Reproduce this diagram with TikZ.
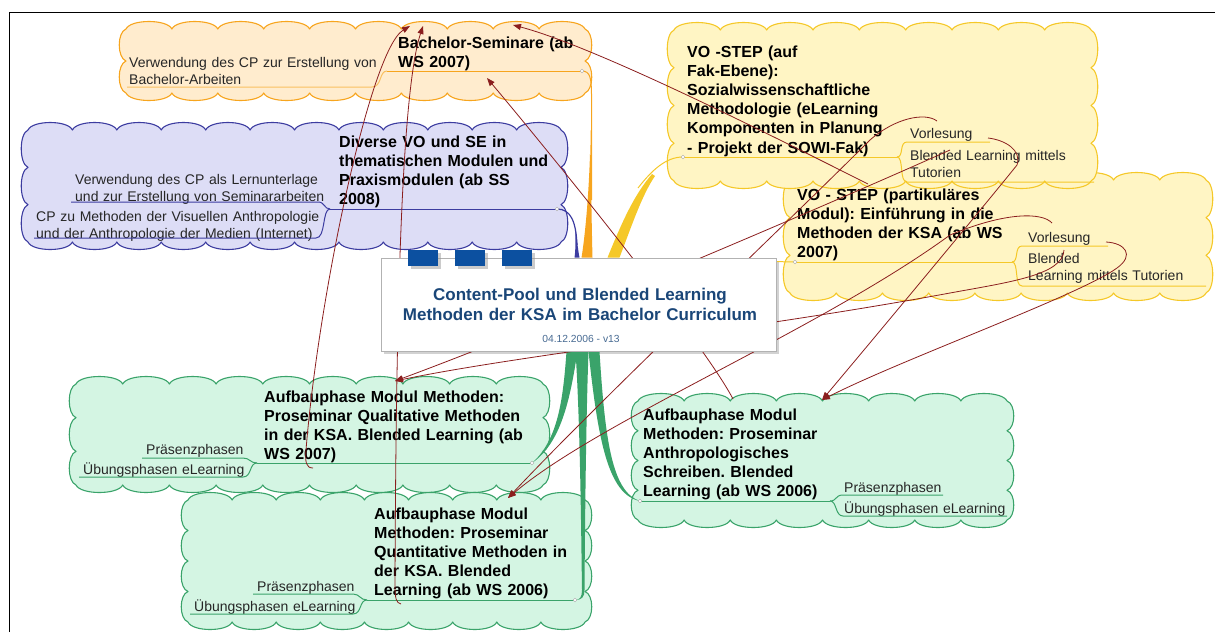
\documentclass[tikz,border=0pt]{standalone}
\usepackage{fontspec}
\setmainfont{Liberation Sans}
\frenchspacing
\usetikzlibrary{positioning, arrows.meta, calc, shadows}

\definecolor{peach}{RGB}{255,236,206}
\definecolor{peachline}{RGB}{247,165,30}
\definecolor{lilac}{RGB}{221,221,246}
\definecolor{lilacline}{RGB}{60,60,160}
\definecolor{lemon}{RGB}{255,245,196}
\definecolor{lemonline}{RGB}{245,200,40}
\definecolor{mint}{RGB}{212,245,227}
\definecolor{mintline}{RGB}{58,163,106}
\definecolor{relred}{RGB}{139,30,30}
\definecolor{titleblue}{RGB}{26,70,120}
\definecolor{tabblue}{RGB}{12,80,160}

% scalloped box: left, top, right, bottom, style
\newcommand\puff[5]{%
  \pgfmathtruncatemacro\nx{max(2,round((#3-#1)/45))}%
  \pgfmathtruncatemacro\ny{max(1,round((#4-#2)/34))}%
  \pgfmathsetmacro\wx{(#3-#1)/\nx}%
  \pgfmathsetmacro\wy{(#4-#2)/\ny}%
  \draw[#5] (#1,#2)
    foreach \i in {1,...,\nx} { .. controls +(0.1*\wx,-10) and +(-0.1*\wx,-10) .. ++(\wx,0) }
    foreach \i in {1,...,\ny} { .. controls +(9,0.1*\wy) and +(9,-0.1*\wy) .. ++(0,\wy) }
    foreach \i in {1,...,\nx} { .. controls +(-0.1*\wx,10) and +(0.1*\wx,10) .. ++(-\wx,0) }
    foreach \i in {1,...,\ny} { .. controls +(-9,-0.1*\wy) and +(-9,0.1*\wy) .. ++(0,-\wy) }
    -- cycle;}

\begin{document}
\begin{tikzpicture}[x=1pt, y=-1pt,
  bubble/.style={line width=1.1pt, line join=round},
  ttl/.style={inner sep=0pt, anchor=base west, text width=360pt, align=left, font=\fontsize{16}{19.2}\selectfont\bfseries},
  sub/.style={inner sep=0pt, anchor=base west, text width=330pt, align=left, text=black!85, font=\fontsize{14}{17}\selectfont},
  uline/.style={line width=1pt},
  knob/.style={draw=gray!70, fill=white, line width=0.4pt},
  tab/.style={fill=tabblue, minimum width=30pt, minimum height=16pt, inner sep=0pt, drop shadow={shadow xshift=3pt, shadow yshift=-3pt, fill=black!40}},
  rel/.style={draw=relred, line width=0.8pt, -{Triangle[length=8pt, width=6pt]}}]
\useasboundingbox (0,0) rectangle (1215,632);
\draw[line width=1pt] (9,632) -- (9,12) -- (1215,12);

% clouds
\puff{126}{29}{585}{93}{bubble, draw=peachline, fill=peach}
\puff{28}{130}{561}{242}{bubble, draw=lilacline, fill=lilac}
\puff{790}{180}{1206}{293}{bubble, draw=lemonline, fill=lemon}
\puff{674}{30}{1091}{181}{bubble, draw=lemonline, fill=lemon}
\puff{76}{384}{543}{485}{bubble, draw=mintline, fill=mint}
\puff{188}{500}{585}{622}{bubble, draw=mintline, fill=mint}
\puff{638}{401}{1007}{520}{bubble, draw=mintline, fill=mint}

% topics
\node[ttl] (bsem) at (398,48) {Bachelor-Seminare (ab\\WS 2007)};
\node[sub] (bsemsub) at (129,67) {Verwendung des CP zur Erstellung von\\Bachelor-Arbeiten};
\coordinate (bsem-l) at (387,71);
\coordinate (bsem-r) at (582,71);
\draw[uline, peachline] (bsem-l) -- (bsem-r);
\draw[uline, peachline!70] (127,87) -- (372,87) .. controls (382,87) and (379,71) .. (bsem-l);

\node[ttl] (divers) at (339,147) {Diverse VO und SE in\\thematischen Modulen und\\Praxismodulen (ab SS\\2008)};
\node[sub] (diverssub1) at (75,184) {Verwendung des CP als Lernunterlage\\und zur Erstellung von Seminararbeiten};
\node[sub] (diverssub2) at (36,221) {CP zu Methoden der Visuellen Anthropologie\\und der Anthropologie der Medien (Internet)};
\coordinate (divers-l) at (330,209);
\coordinate (divers-r) at (557,209);
\draw[uline, lilacline] (divers-l) -- (divers-r);
\draw[uline, lilacline] (71,202) -- (318,202) .. controls (325,202) and (324,209) .. (divers-l);
\draw[uline, lilacline] (34,238) -- (316,238) .. controls (326,238) and (322,209) .. (divers-l);

\node[ttl] (fak) at (687,57) {VO -STEP (auf\\Fak-Ebene):\\Sozialwissenschaftliche\\Methodologie (eLearning\\Komponenten in Planung\\- Projekt der SOWI-Fak)};
\node[sub] (fakvo) at (910,138) {Vorlesung};
\node[sub] (fakbl) at (910,160) {Blended Learning mittels\\Tutorien};
\coordinate (fak-l) at (683,157);
\coordinate (fak-r) at (897,157);
\draw[uline, lemonline] (fak-l) -- (fak-r);
\draw[uline, lemonline] (fak-r) .. controls (904,157) and (899,142) .. (907,142) -- (990,142);
\draw[uline, lemonline] (fak-r) .. controls (904,157) and (899,182) .. (907,182) -- (1094,182);

\node[ttl] (part) at (797,200) {VO - STEP (partikuläres\\Modul): Einführung in die\\Methoden der KSA (ab WS\\2007)};
\node[sub] (partvo) at (1028,242) {Vorlesung};
\node[sub] (partbl) at (1028,263) {Blended\\Learning mittels Tutorien};
\coordinate (part-l) at (795,262);
\coordinate (part-r) at (1012,262);
\draw[uline, lemonline] (part-l) -- (part-r);
\draw[uline, lemonline] (part-r) .. controls (1019,262) and (1014,246) .. (1022,246) -- (1108,246);
\draw[uline, lemonline] (part-r) .. controls (1019,262) and (1014,286) .. (1022,286) -- (1206,286);

\node[ttl] (qual) at (264,402) {Aufbauphase Modul Methoden:\\Proseminar Qualitative Methoden\\in der KSA. Blended Learning (ab\\WS 2007)};
\node[sub] (qualp) at (146,454) {Präsenzphasen};
\node[sub] (qualu) at (83,474) {Übungsphasen eLearning};
\coordinate (qual-l) at (257,463);
\coordinate (qual-r) at (532,463);
\draw[uline, mintline] (qual-l) -- (qual-r);
\draw[uline, mintline] (142,458) -- (243,458) .. controls (250,458) and (250,463) .. (qual-l);
\draw[uline, mintline] (79,477) -- (243,477) .. controls (252,477) and (249,463) .. (qual-l);

\node[ttl] (quant) at (374,519) {Aufbauphase Modul\\Methoden: Proseminar\\Quantitative Methoden in\\der KSA. Blended\\Learning (ab WS 2006)};
\node[sub] (quantp) at (257,591) {Präsenzphasen};
\node[sub] (quantu) at (194,611) {Übungsphasen eLearning};
\coordinate (quant-l) at (367,600);
\coordinate (quant-r) at (575,600);
\draw[uline, mintline] (quant-l) -- (quant-r);
\draw[uline, mintline] (253,594) -- (353,594) .. controls (360,594) and (360,600) .. (quant-l);
\draw[uline, mintline] (190,614) -- (353,614) .. controls (362,614) and (359,600) .. (quant-l);

\node[ttl] (anthro) at (643,420) {Aufbauphase Modul\\Methoden: Proseminar\\Anthropologisches\\Schreiben. Blended\\Learning (ab WS 2006)};
\node[sub] (anthrop) at (844,492) {Präsenzphasen};
\node[sub] (anthrou) at (844,513) {Übungsphasen eLearning};
\coordinate (anthro-l) at (640,501);
\coordinate (anthro-r) at (830,501);
\draw[uline, mintline] (anthro-l) -- (anthro-r);
\draw[uline, mintline] (anthro-r) .. controls (837,501) and (835,495) .. (843,495) -- (943,495);
\draw[uline, mintline] (anthro-r) .. controls (837,501) and (835,516) .. (843,516) -- (1007,516);

% central topic
\node[draw=gray!60, fill=white, line width=0.8pt, minimum width=395pt, minimum height=93pt, inner sep=0pt,
  drop shadow={shadow xshift=3pt, shadow yshift=-3pt, fill=black!35}] (cpool) at (578.5,304.5) {};

% branches into the central topic
\draw[peachline, line width=1pt] (bsem-r) .. controls (590,71) and (591.5,78) .. (591.5,95) -- (591.5,200);
\fill[peachline] (590.5,130) .. controls (591,190) and (592,240) .. ($(cpool.north)+(14,0)$) -- ($(cpool.north)+(3,0)$) .. controls (586,230) and (590,180) .. cycle;
\draw[lilacline, line width=1.2pt] (divers-r) .. controls (571,209) and (576,222) .. (577,245);
\fill[lilacline] (575.5,228) .. controls (577,240) and (578,250) .. ($(cpool.north)+(1,0)$) -- ($(cpool.north)+(-4,0)$) .. controls (576,248) and (575,238) .. cycle;
\draw[lemonline, line width=1pt] (638,188) .. controls (652,170) and (666,157) .. (fak-l);
\fill[lemonline] ($(cpool.north)+(29,0)$) .. controls (622,222) and (634,195) .. (652,174) -- (655,176) .. controls (642,195) and (632,225) .. ($(cpool.north)+(41,0)$) -- cycle;
\draw[lemonline, line width=1pt] ($(cpool.north east)+(0,4)$) -- (part-l);
\fill[mintline] ($(cpool.south)+(-12,0)$) .. controls (563,400) and (558,440) .. (qual-r) .. controls (561,443) and (570,400) .. ($(cpool.south)+(-1,0)$) -- cycle;
\fill[mintline] ($(cpool.south)+(-3,0)$) .. controls (580,420) and (581,520) .. (582,590) .. controls (582,597) and (580,600) .. (quant-r) .. controls (582,600) and (584.5,597) .. (584.5,590) .. controls (585,520) and (586,420) .. ($(cpool.south)+(10,0)$) -- cycle;
\fill[mintline] ($(cpool.south)+(10,0)$) .. controls (598,440) and (608,495) .. (anthro-l) .. controls (612,492) and (605,440) .. ($(cpool.south)+(21,0)$) -- cycle;
\foreach \k in {bsem-r, divers-r, fak-l, part-l, qual-r, quant-r, anthro-l}
  \draw[knob] (\k) circle[radius=1.8pt];

% relationships
\coordinate (a-s) at (313,468);
\coordinate (a-e) at (410,26);
\coordinate (b-s) at (401,604);
\coordinate (b-e) at (423,26);
\coordinate (c-s) at (733,399);
\coordinate (c-e) at (487,78);
\coordinate (d-s) at (868,184);
\coordinate (d-e) at (513,25);
\coordinate (j-s) at (1064,250);
\coordinate (k-s) at (950,150);
\coordinate (f-s) at (988,138);
\coordinate (g-s) at (1106,242);
\coordinate (h-s) at (1052,223);
\coordinate (i-s) at (937,121);
\coordinate (qual-t) at (395,381);
\coordinate (quant-t) at (508,498);
\coordinate (anthro-t) at (822,400);
\draw[rel] (a-s) .. controls (306,468) and (305,462) .. (306,450) .. controls (318,300) and (370,50) .. (a-e);
\draw[rel] (b-s) .. controls (396,603) and (395,598) .. (395,585) .. controls (396,300) and (402,90) .. (b-e);
\draw[rel] (c-s) .. controls (705,345) and (560,165) .. (c-e);
\draw[rel] (d-s) .. controls (790,145) and (600,48) .. (d-e);
\draw[rel] (j-s) .. controls (1063,275) and (1010,282) .. (950,293) .. controls (750,330) and (520,355) .. (qual-t);
\draw[rel] (k-s) .. controls (850,195) and (560,320) .. (qual-t);
\draw[rel] (f-s) .. controls (1005,140) and (1022,150) .. (1017,165) .. controls (985,205) and (860,355) .. (anthro-t);
\draw[rel] (g-s) .. controls (1125,243) and (1135,255) .. (1117,268) .. controls (1080,295) and (900,360) .. (anthro-t);
\draw[rel] (h-s) .. controls (1042,212) and (1005,212) .. (950,235) .. controls (820,330) and (600,420) .. (quant-t);
\draw[rel] (i-s) .. controls (925,112) and (895,118) .. (870,140) .. controls (780,230) and (600,400) .. (quant-t);

% central topic on top of the relationship lines
\node[draw=gray!60, fill=white, line width=0.8pt, minimum width=395pt, minimum height=93pt, inner sep=0pt] (cface) at (cpool) {};
\node[text=titleblue, anchor=base, text width=395pt, align=center, inner sep=0pt,
  font=\fontsize{17}{20}\selectfont\bfseries] (ctitle) at (580,300) {Content-Pool und Blended Learning\\Methoden der KSA im Bachelor Curriculum};
\node[text=titleblue!80, anchor=base, inner sep=0pt, font=\fontsize{10.3}{12}\selectfont] (cdate) at (581,342) {04.12.2006 - v13};
\node[tab] (tab1) at (423,258) {};
\node[tab, right=17pt of tab1] (tab2) {};
\node[tab, right=16pt of tab2] (tab3) {};
\end{tikzpicture}
\end{document}
